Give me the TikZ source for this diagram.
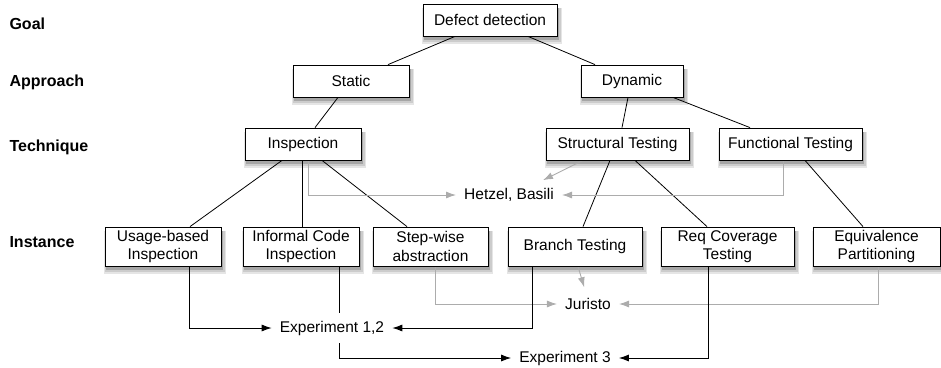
\documentclass[tikz,border=0pt]{standalone}
\usepackage{fontspec}
\setmainfont{Liberation Sans}
\usetikzlibrary{arrows.meta}
\usetikzlibrary{backgrounds}

\definecolor{refgray}{RGB}{172,172,172}

\begin{document}
\begin{tikzpicture}[x=1pt, y=-1pt,
  font=\fontsize{15.5}{18.5}\selectfont,
  box/.style={draw, line width=0.8pt, fill=white, minimum height=32pt, inner sep=2pt, align=center},
  inst/.style={box, minimum height=39pt},
  lvl/.style={anchor=west, font=\fontsize{16}{19}\selectfont\bfseries},
  study/.style={inner sep=8pt, fill=white},
  edge/.style={line width=0.8pt},
  gref/.style={draw=refgray, line width=0.9pt, -{Latex[length=10pt,width=7pt]}},
  bref/.style={line width=0.9pt, -{Latex[length=10pt,width=7pt]}}]
\useasboundingbox (0,0) rectangle (941,367);

%level labels
\node [lvl] (goal) at (6,24) {Goal};
\node [lvl] (appr) at (6,82) {Approach};
\node [lvl] (tech) at (6,147) {Technique};
\node [lvl] (inst) at (6,242) {Instance};

%goal and approaches
\node [box, minimum width=134pt] (dd) at (490,20) {Defect detection};
\node [box, minimum width=116pt] (st) at (351,81) {Static};
\node [box, minimum width=102pt] (dy) at (632,81) {Dynamic};

%techniques
\node [box, minimum width=116pt] (insp) at (303,144) {Inspection};
\node [box, minimum width=143pt] (struct) at (617.5,144) {Structural Testing};
\node [box, minimum width=143pt] (func) at (790.5,144) {Functional Testing};

%instances
\node [inst, minimum width=116pt] (usage) at (163,246.5) {Usage-based\\Inspection};
\node [inst, minimum width=116pt] (informal) at (301,246.5) {Informal Code\\Inspection};
\node [inst, minimum width=115pt] (stepw) at (430.5,246.5) {Step-wise\\abstraction};
\node [inst, minimum width=134pt] (branch) at (575,246.5) {Branch Testing};
\node [inst, minimum width=133pt] (reqcov) at (727.5,246.5) {Req Coverage\\Testing};
\node [inst, minimum width=127pt] (equiv) at (876.5,246.5) {Equivalence\\Partitioning};

%studies
\node [study] (hb) at (509,195) {Hetzel, Basili};
\node [study] (ju) at (588,304) {Juristo};
\node [study] (e12) at (332,328) {Experiment 1,2};
\node [study] (e3) at (565,358) {Experiment 3};

\begin{scope}[on background layer]
%soft shadows under the boxes
\foreach \n in {dd,st,dy,insp,struct,func,usage,informal,stepw,branch,reqcov,equiv} {
  \fill [black!10] ([xshift=-1pt,yshift=-8pt]\n.south west) rectangle ([xshift=5pt,yshift=-4pt]\n.north east);
  \fill [black!20] ([xshift=0pt,yshift=-6pt]\n.south west) rectangle ([xshift=3.5pt,yshift=-4pt]\n.north east);
  \fill [black!35] ([xshift=1pt,yshift=-3.5pt]\n.south west) rectangle ([xshift=2pt,yshift=-4pt]\n.north east);
}

%tree edges
\draw [edge] ([xshift=-35]dd.south) -- ([xshift=37]st.north);
\draw [edge] ([xshift=38]dd.south) -- ([xshift=-37]dy.north);
\draw [edge] ([xshift=-13]st.south) -- ([xshift=12]insp.north);
\draw [edge] ([xshift=-4]dy.south) -- ([xshift=4.5]struct.north);
\draw [edge] ([xshift=41]dy.south) -- ([xshift=-40.5]func.north);
\draw [edge] ([xshift=-21]insp.south) -- ([xshift=27]usage.north);
\draw [edge] ([xshift=1]informal.north) -- ([xshift=1]informal.north |- insp.south);
\draw [edge] ([xshift=19]insp.south) -- ([xshift=-23.5]stepw.north);
\draw [edge] ([xshift=-7.5]struct.south) -- ([xshift=8]branch.north);
\draw [edge] ([xshift=17.5]struct.south) -- ([xshift=-20.5]reqcov.north);
\draw [edge] ([xshift=14.5]func.south) -- ([xshift=-13.5]equiv.north);

%gray links to studies
\draw [gref] ([xshift=5]insp.south) |- (hb.west);
\draw [gref] ([xshift=-7.5]func.south) |- (hb.east);
\draw [gref] ([xshift=-34.5]struct.south) -- ([xshift=-19]hb.north east);
\draw [gref] ([xshift=4.5]stepw.south) |- (ju.west);
\draw [gref, shorten >=3pt] ([xshift=3]branch.south) -- ([xshift=-3]ju.north);
\draw [gref] ([xshift=1.5]equiv.south) |- (ju.east);

%black links to experiments
\draw [bref] ([xshift=26]usage.south) |- (e12.west);
\draw [bref] ([xshift=-43]branch.south) |- (e12.east);
\draw [bref] ([xshift=38]informal.south) |- (e3.west);
\draw [bref] ([xshift=-19.5]reqcov.south) |- (e3.east);
\end{scope}

\end{tikzpicture}
\end{document}
